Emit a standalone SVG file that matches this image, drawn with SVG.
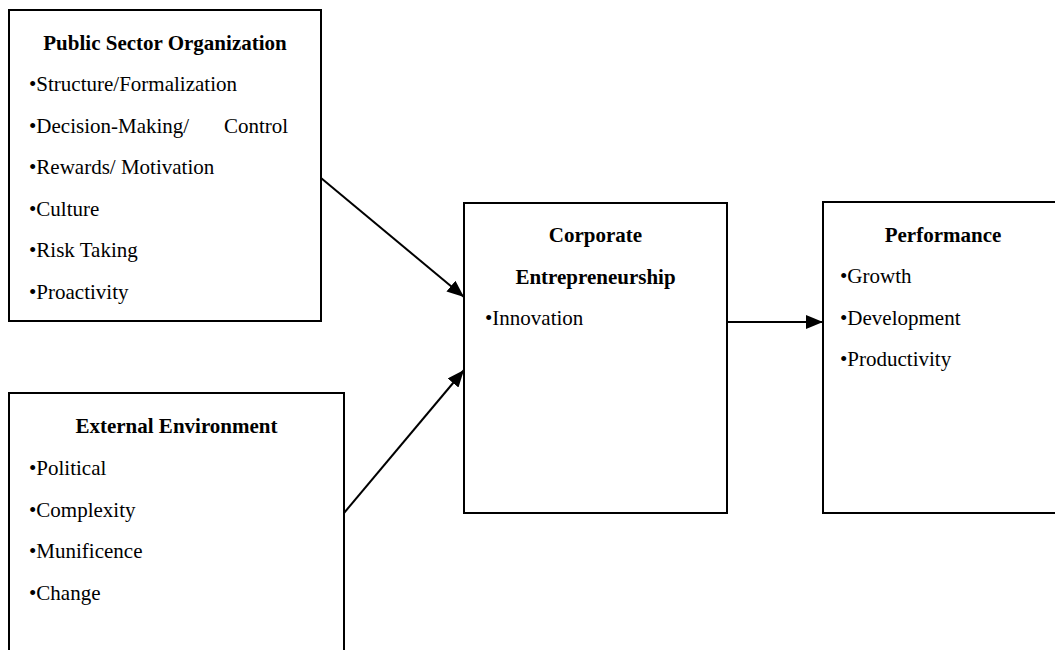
<svg xmlns="http://www.w3.org/2000/svg" width="1055" height="650" viewBox="0 0 1055 650">
  <style>
    .box { fill: #ffffff; stroke: #000000; stroke-width: 2; }
    .title { font-family: "Liberation Serif", "Times New Roman", serif; font-size: 21px; font-weight: bold; fill: #000000; text-anchor: middle; }
    .item { font-family: "Liberation Serif", "Times New Roman", serif; font-size: 21px; fill: #000000; }
    .conn { stroke: #000000; stroke-width: 2; fill: none; marker-end: url(#arrow); }
  </style>
  <defs>
    <marker id="arrow" viewBox="0 0 17 14" refX="17" refY="7" markerWidth="17" markerHeight="14" markerUnits="userSpaceOnUse" orient="auto">
      <path d="M0,0 L17,7 L0,14 z" fill="#000000"/>
    </marker>
  </defs>
  <rect width="1055" height="650" fill="#ffffff"/>

  <g id="public-sector">
    <rect class="box" x="9" y="10" width="312" height="311"/>
    <text class="title" x="165" y="50">Public Sector Organization</text>
    <text class="item" x="29" y="91">•Structure/Formalization</text>
    <text class="item" x="29" y="132.5">•Decision-Making/<tspan x="224">Control</tspan></text>
    <text class="item" x="29" y="174">•Rewards/ Motivation</text>
    <text class="item" x="29" y="215.5">•Culture</text>
    <text class="item" x="29" y="257">•Risk Taking</text>
    <text class="item" x="29" y="298.5">•Proactivity</text>
  </g>

  <g id="external-environment">
    <rect class="box" x="9" y="393" width="335" height="270"/>
    <text class="title" x="176.5" y="433">External Environment</text>
    <text class="item" x="29" y="475">•Political</text>
    <text class="item" x="29" y="516.5">•Complexity</text>
    <text class="item" x="29" y="558">•Munificence</text>
    <text class="item" x="29" y="599.5">•Change</text>
  </g>

  <g id="corporate-entrepreneurship">
    <rect class="box" x="464" y="203" width="263" height="310"/>
    <text class="title" x="595.5" y="242">Corporate</text>
    <text class="title" x="595.5" y="284">Entrepreneurship</text>
    <text class="item" x="485" y="325">•Innovation</text>
  </g>

  <g id="performance">
    <rect class="box" x="823" y="202" width="240" height="311"/>
    <text class="title" x="943" y="242">Performance</text>
    <text class="item" x="840" y="283">•Growth</text>
    <text class="item" x="840" y="325">•Development</text>
    <text class="item" x="840" y="366">•Productivity</text>
  </g>

  <g id="connectors">
    <line class="conn" x1="321" y1="178" x2="464" y2="297"/>
    <line class="conn" x1="344" y1="513" x2="464" y2="370"/>
    <line class="conn" x1="727" y1="322" x2="823" y2="322"/>
  </g>
</svg>
